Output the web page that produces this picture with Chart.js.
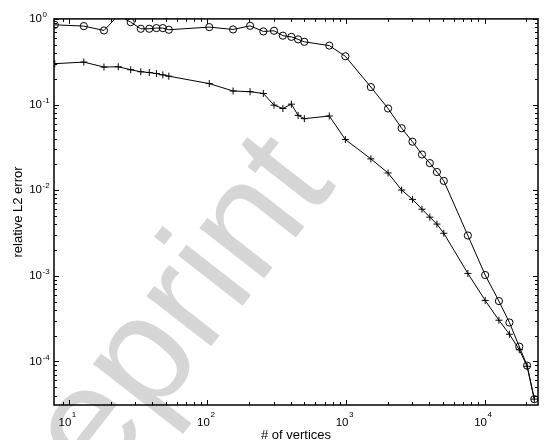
<!DOCTYPE html>
<html>
<head>
<meta charset="utf-8">
<script src="https://cdn.jsdelivr.net/npm/chart.js@4"></script>
<style>
  html, body { margin: 0; padding: 0; background: #fff; }
  canvas { display: block; }
</style>
</head>
<body>
<canvas id="chart" width="549" height="440"></canvas>
<script>
// mesh sizes (# of vertices), same for both curves
const vertices = [7.9, 12.8, 17.9, 22.7, 27.9, 33, 38, 42.8, 47.6, 52.6,
  103, 153, 203, 253, 302, 350, 403, 451, 500, 757, 989,
  1511, 2011, 2520, 3016, 3534, 4027, 4530, 5077, 7575,
  10100, 12690, 15110, 17800, 20280, 22850];

// relative L2 error, circle markers
const errCircle = [0.853, 0.824, 0.733, 1.1, 0.916, 0.767, 0.767, 0.781, 0.781, 0.747,
  0.802, 0.753, 0.830, 0.714, 0.727, 0.637, 0.617, 0.577, 0.540, 0.488, 0.366,
  0.160, 0.0899, 0.0529, 0.0368, 0.0261, 0.0207, 0.0163, 0.01284, 0.002955,
  0.001021, 0.000507, 0.000285, 0.000149, 0.0000894, 0.0000363];

// relative L2 error, plus markers
const errPlus = [0.300, 0.313, 0.274, 0.276, 0.255, 0.2415, 0.2365, 0.230, 0.222, 0.2143,
  0.1756, 0.1439, 0.1413, 0.1346, 0.0984, 0.0899, 0.101, 0.0747, 0.0684, 0.0735, 0.0390,
  0.0232, 0.01588, 0.01003, 0.00781, 0.00599, 0.00484, 0.00402, 0.00314, 0.001066,
  0.000516, 0.000303, 0.000208, 0.000137, 0.0000878, 0.0000363];

const xRange = [7.8, 24300];
const yRange = [3.1e-5, 1];
const xTitle = '# of vertices';
const yTitle = 'relative L2 error';
const watermark = 'Preprint';

const FONT = '"Liberation Sans", Arial, Helvetica, sans-serif';
const TICK_SIZE = 11.5;
const EXP_SIZE = 8;
const X_LABEL_SHIFT = -4;
const Y_LABEL_PAD = 12;

function isPow10(v) {
  const e = Math.log10(v);
  return Math.abs(e - Math.round(e)) < 1e-9;
}
function isWholeMantissa(v) {
  const m = v / Math.pow(10, Math.floor(Math.log10(v) + 1e-9));
  return Math.abs(m - Math.round(m)) < 1e-6;
}

// white page, watermark, box with inward ticks, and the 10^n exponents
const matlabAxes = {
  id: 'matlabAxes',
  beforeDraw(chart) {
    const ctx = chart.ctx;
    ctx.save();
    ctx.fillStyle = '#fff';
    ctx.fillRect(0, 0, chart.width, chart.height);
    ctx.translate(337, 185);
    ctx.rotate(-52 * Math.PI / 180);
    ctx.font = '155px ' + FONT;
    ctx.fillStyle = '#d6d6d6';
    ctx.textAlign = 'right';
    ctx.textBaseline = 'alphabetic';
    ctx.fillText(watermark, 0, 0);
    ctx.restore();
  },
  afterDraw(chart) {
    const { ctx, chartArea: a, scales: { x, y } } = chart;
    ctx.save();
    ctx.strokeStyle = '#000';
    ctx.lineWidth = 1;
    ctx.beginPath();
    x.ticks.forEach(t => {
      if (!isWholeMantissa(t.value)) return;
      const px = Math.round(x.getPixelForValue(t.value)) + 0.5;
      const len = isPow10(t.value) ? 5 : 3;
      ctx.moveTo(px, a.bottom); ctx.lineTo(px, a.bottom - len);
      ctx.moveTo(px, a.top); ctx.lineTo(px, a.top + len);
    });
    y.ticks.forEach(t => {
      if (!isWholeMantissa(t.value)) return;
      const py = Math.round(y.getPixelForValue(t.value)) + 0.5;
      const len = isPow10(t.value) ? 5 : 3;
      ctx.moveTo(a.left, py); ctx.lineTo(a.left + len, py);
      ctx.moveTo(a.right, py); ctx.lineTo(a.right - len, py);
    });
    ctx.stroke();
    ctx.lineWidth = 1.5;
    ctx.strokeRect(a.left, a.top, a.right - a.left, a.bottom - a.top);

    ctx.font = TICK_SIZE + 'px ' + FONT;
    const w = ctx.measureText('10').width;
    ctx.font = EXP_SIZE + 'px ' + FONT;
    ctx.fillStyle = '#000';
    ctx.textAlign = 'left';
    ctx.textBaseline = 'alphabetic';
    x.ticks.forEach(t => {
      if (!isPow10(t.value)) return;
      const px = x.getPixelForValue(t.value) + X_LABEL_SHIFT + w / 2 + 0.5;
      ctx.fillText(String(Math.round(Math.log10(t.value))), px, a.bottom + 12.3);
    });
    y.ticks.forEach(t => {
      if (!isPow10(t.value)) return;
      const py = y.getPixelForValue(t.value) - 1.7;
      ctx.fillText(String(Math.round(Math.log10(t.value))), a.left - Y_LABEL_PAD + 0.6, py);
    });
    ctx.restore();
  }
};

const toPoints = ys => vertices.map((v, i) => ({ x: v, y: ys[i] }));

new Chart(document.getElementById('chart'), {
  type: 'line',
  data: {
    datasets: [{
      label: 'circles',
      data: toPoints(errCircle),
      borderColor: '#000',
      borderWidth: 1,
      pointStyle: 'circle',
      pointRadius: 3.6,
      pointBorderWidth: 1,
      pointBorderColor: '#000',
      pointBackgroundColor: 'rgba(0,0,0,0)',
      tension: 0
    }, {
      label: 'plus',
      data: toPoints(errPlus),
      borderColor: '#000',
      borderWidth: 1,
      pointStyle: 'cross',
      pointRadius: 3.5,
      pointBorderWidth: 1,
      pointBorderColor: '#000',
      pointBackgroundColor: '#000',
      tension: 0
    }]
  },
  options: {
    responsive: false,
    devicePixelRatio: 1,
    animation: false,
    layout: { padding: { top: 15, right: 2, left: 0, bottom: 0 } },
    plugins: { legend: { display: false }, tooltip: { enabled: false } },
    scales: {
      x: {
        type: 'logarithmic',
        min: xRange[0],
        max: xRange[1],
        grid: { display: false, drawTicks: false },
        border: { display: false },
        ticks: {
          autoSkip: false,
          maxRotation: 0,
          padding: 11,
          labelOffset: X_LABEL_SHIFT,
          color: '#000',
          font: { family: FONT, size: TICK_SIZE },
          callback: v => isPow10(v) ? '10' : ''
        },
        title: {
          display: true,
          text: xTitle,
          color: '#000',
          font: { family: FONT, size: 13 },
          padding: { top: 0, bottom: -3 }
        },
        afterFit: s => { s.height = 35; }
      },
      y: {
        type: 'logarithmic',
        min: yRange[0],
        max: yRange[1],
        grid: { display: false, drawTicks: false },
        border: { display: false },
        ticks: {
          autoSkip: false,
          padding: Y_LABEL_PAD,
          color: '#000',
          font: { family: FONT, size: TICK_SIZE },
          callback: v => isPow10(v) ? '10' : ''
        },
        title: {
          display: true,
          text: yTitle,
          color: '#000',
          font: { family: FONT, size: 13 },
          padding: { top: 11, bottom: 0 }
        },
        afterFit: s => { s.width = 54; }
      }
    }
  },
  plugins: [matlabAxes]
});
</script>
</body>
</html>
